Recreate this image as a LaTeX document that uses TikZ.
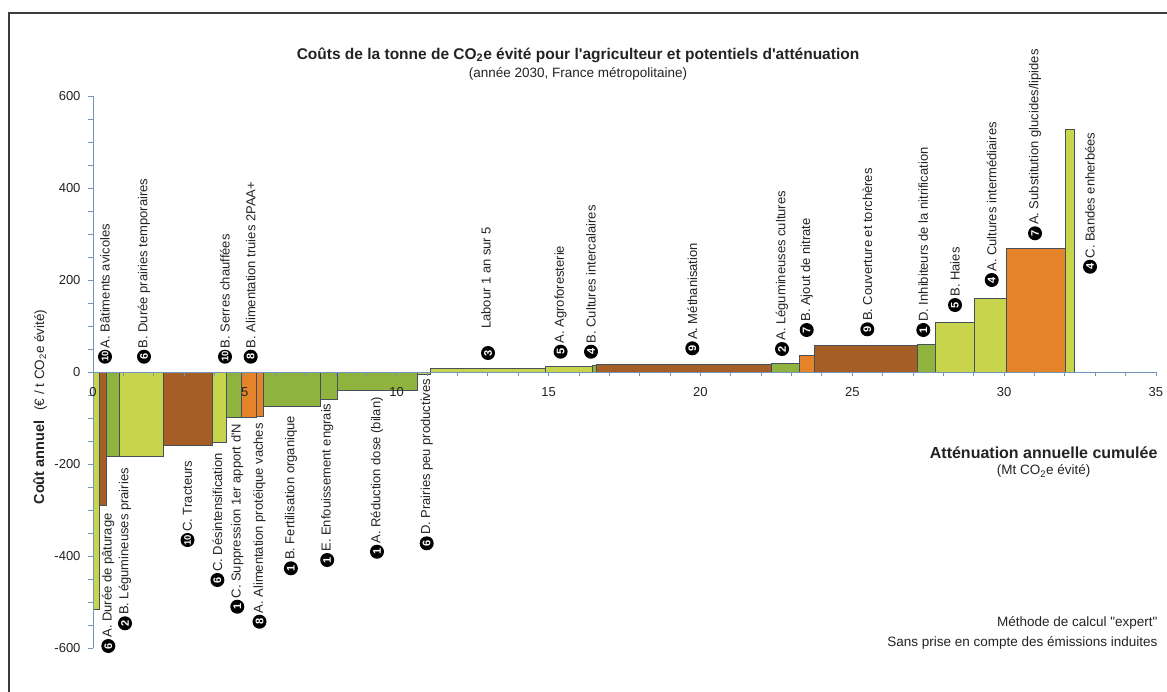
\documentclass[tikz,border=0pt]{standalone}
\usepackage{fontspec}
\setmainfont{Liberation Sans}[Ligatures=TeXOff]
\usetikzlibrary{positioning}
\definecolor{vertclair}{RGB}{199,212,76}
\definecolor{vertfonce}{RGB}{143,179,62}
\definecolor{brun}{RGB}{165,94,38}
\definecolor{orangeb}{RGB}{229,131,42}
\definecolor{Axe}{RGB}{112,150,190}
\definecolor{Texte}{RGB}{35,35,35}
\definecolor{Cadre}{RGB}{60,60,60}

\tikzset{
  barre/.style={draw={rgb,255:red,70;green,80;blue,90}, line width=0.7pt},
  axe/.style={draw=Axe, line width=0.8pt},
  pastille/.style={circle, fill=black, text=white, inner sep=0pt, minimum size=14pt, rotate=90,
    font=\bfseries\fontsize{11}{11}\selectfont},
  etiq/.style={rotate=90, anchor=west, inner sep=1pt, text=Texte, font=\fontsize{13}{13}\selectfont},
  graduation/.style={text=Texte, font=\fontsize{13}{13}\selectfont},
}
\newcommand{\levier}[5]{%
  \node[pastille] (#1) at (#2,-#3) {#4};
  \node[etiq] at (#1.east) {#5};}

\begin{document}
\begin{tikzpicture}[x=1pt, y=1pt]
\useasboundingbox (0,0) rectangle (1167,-691);
% cadre
\draw[Cadre, line width=1.8pt] (9,-700) -- (9,-13) -- (1180,-13);

% titres
\node[text=Texte, font=\bfseries\fontsize{15.5}{16}\selectfont] (titre) at (578,-55)
  {Coûts de la tonne de CO\textsubscript{2}e évité pour l'agriculteur et potentiels d'atténuation};
\node[text=Texte, font=\fontsize{13.5}{14}\selectfont, below=-2pt of titre] (soustitre)
  {(année 2030, France métropolitaine)};
\node[rotate=90, text=Texte] (titrey) at (40,-407)
  {{\bfseries\fontsize{14.5}{15}\selectfont Coût annuel}\quad{\fontsize{13.5}{14}\selectfont(€ / t CO\textsubscript{2}e évité)}};
\node[anchor=east, text=Texte, font=\bfseries\fontsize{16}{16}\selectfont] (titrex) at (1161,-453)
  {Atténuation annuelle cumulée};
\node[text=Texte, font=\fontsize{13.5}{14}\selectfont, below=-1pt of titrex] (unitex)
  {(Mt CO\textsubscript{2}e évité)};
\node[anchor=east, text=Texte, font=\fontsize{13.5}{14}\selectfont] (methode) at (1161,-622.7)
  {Méthode de calcul "expert"};
\node[anchor=east, text=Texte, font=\fontsize{13.5}{14}\selectfont] (induites) at (1161,-642.7)
  {Sans prise en compte des émissions induites};

% barres
\begin{scope}[shift={(93,-372)}, x=30.37pt, y=0.46pt]
  \foreach \xa/\xb/\h/\c in {0/0.22/-517/vertclair, 0.22/0.43/-290/brun, 0.43/0.87/-184/vertfonce,
      0.87/2.31/-184/vertclair, 2.31/3.94/-159/brun, 3.94/4.40/-153/vertclair, 4.40/4.90/-98/vertfonce,
      4.90/5.38/-98/orangeb, 5.38/5.61/-96/orangeb, 5.61/7.47/-75/vertfonce, 7.47/8.04/-59/vertfonce,
      8.04/10.68/-39/vertfonce, 10.68/11.10/-6/vertclair, 11.10/14.91/8/vertclair,
      14.91/16.44/13/vertclair, 16.44/16.59/14.5/vertfonce, 16.59/22.35/16/brun,
      22.35/23.26/18/vertfonce, 23.26/23.74/37/orangeb, 23.74/27.14/59/brun, 27.14/27.75/61/vertfonce,
      27.75/29.02/107/vertclair, 29.02/30.09/160/vertclair, 30.09/32.03/269/orangeb,
      32.03/32.30/527/vertclair}{
    \filldraw[barre, fill=\c] (\xa,0) rectangle (\xb,\h);
  }
  \draw[axe] (0,-600) -- (0,600);
  \foreach \v in {-600,-550,...,600} \draw[axe] (0,\v) -- ++(-5pt,0);
  \draw[axe] (0,0) -- (35,0);
  \foreach \i in {0,...,35} \draw[axe] (\i,0) -- ++(0,-4pt);
\end{scope}

% graduations
\foreach \v in {0,5,...,35} \node[graduation] at ({93+30.37*\v},-392) {\v};
\foreach \v in {-600,-400,...,600} \node[graduation, anchor=east] at (84,{-372+0.46*\v}) {\v};

% leviers au-dessus de l'axe
\levier{p10a}{105}{356.7}{{\fontsize{9.5}{9.5}\selectfont 10}}{A. Bâtiments avicoles}
\levier{p6b}{144}{356.7}{6}{B. Durée prairies temporaires}
\levier{p10b}{225}{356.7}{{\fontsize{9.5}{9.5}\selectfont 10}}{B. Serres chauffées}
\levier{p8b}{250.7}{356.7}{8}{B. Alimentation truies 2PAA+}
\node[pastille] (p3) at (488,-353) {3};
\node[etiq] (labour) at (486,-330) {Labour 1 an sur 5};
\levier{p5a}{560.6}{351.7}{5}{A. Agroforesterie}
\levier{p4b}{591}{351.7}{4}{B. Cultures intercalaires}
\levier{p9a}{692.3}{348.3}{9}{A. Méthanisation}
\levier{p2a}{782}{349}{2}{A. Légumineuses cultures}
\levier{p7b}{806.7}{330}{7}{B. Ajout de nitrate}
\levier{p9b}{867.3}{329.3}{9}{B. Couverture et torchères}
\levier{p1d}{923.3}{330}{1}{D. Inhibiteurs de la nitrification}
\levier{p5b}{955}{305}{5}{B. Haies}
\levier{p4a}{991.7}{280}{4}{A. Cultures intermédiaires}
\levier{p7a}{1035}{233.3}{7}{A. Substitution glucides/lipides}
\levier{p4c}{1090}{266.7}{4}{C. Bandes enherbées}

% leviers sous l'axe
\levier{p6a}{108.3}{646}{6}{A. Durée de pâturage}
\levier{p2b}{125}{623.3}{2}{B. Légumineuses prairies}
\levier{p10c}{187.5}{540}{{\fontsize{9.5}{9.5}\selectfont 10}}{C. Tracteurs}
\levier{p6c}{217.4}{580}{6}{C. Désintensification}
\levier{p1c}{237.3}{606.7}{1}{C. Suppression 1er apport d'N}
\levier{p8a}{259.5}{621.7}{8}{A. Alimentation protéique vaches}
\levier{p1b}{290.9}{568.3}{1}{B. Fertilisation organique}
\levier{p1e}{327.2}{560}{1}{E. Enfouissement engrais}
\levier{p1a}{377}{551.7}{1}{A. Réduction dose (bilan)}
\levier{p6d}{426.7}{543.3}{6}{D. Prairies peu productives}
\end{tikzpicture}
\end{document}
